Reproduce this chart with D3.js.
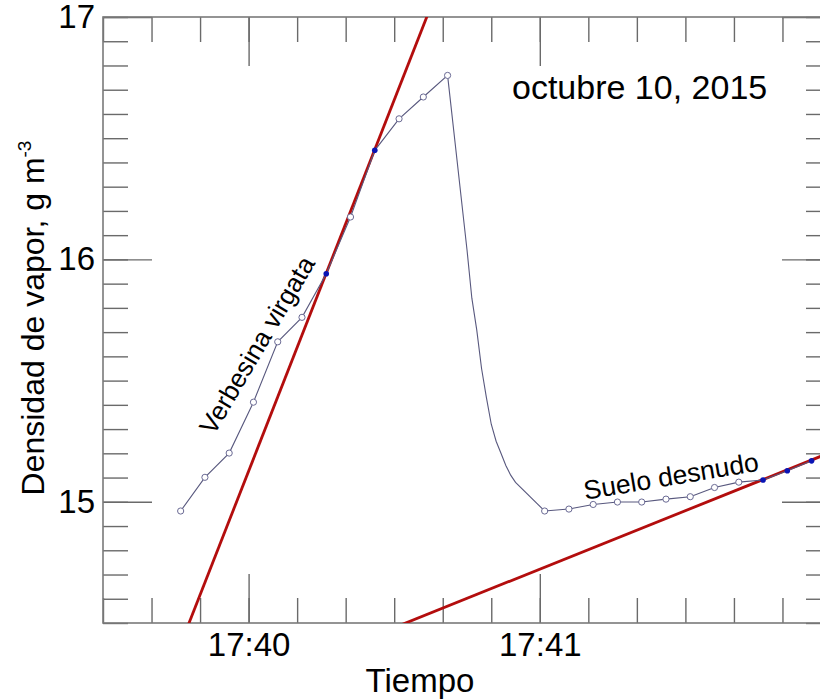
<!DOCTYPE html>
<html>
<head>
<meta charset="utf-8">
<script src="https://cdn.jsdelivr.net/npm/d3@7"></script>
<style>
  body { margin: 0; background: #fff; }
  svg { display: block; font-family: "Liberation Sans", Arial, sans-serif; }
</style>
</head>
<body>
<svg id="chart"></svg>
<script>
// readings every 5 s (markers), transition segment without markers
const verbesinaTimes = ["17:39:46", "17:39:51", "17:39:56", "17:40:01", "17:40:06", "17:40:11",
    "17:40:16", "17:40:21", "17:40:26", "17:40:31", "17:40:36", "17:40:41"];
const verbesinaValues = [14.962, 15.101, 15.201, 15.411, 15.660, 15.761,
    15.941, 16.175, 16.450, 16.580, 16.670, 16.759];

const transitionTimes = ["17:40:45", "17:40:46", "17:40:47", "17:40:48", "17:40:49", "17:40:50",
    "17:40:51", "17:40:52", "17:40:53", "17:40:54", "17:40:55"];
const transitionValues = [16.04, 15.84, 15.71, 15.55, 15.43, 15.32,
    15.25, 15.20, 15.15, 15.11, 15.08];

const sueloTimes = ["17:41:01", "17:41:06", "17:41:11", "17:41:16", "17:41:21", "17:41:26",
    "17:41:31", "17:41:36", "17:41:41", "17:41:46", "17:41:51", "17:41:56"];
const sueloValues = [14.962, 14.970, 14.989, 14.999, 14.999, 15.011,
    15.021, 15.059, 15.081, 15.090, 15.128, 15.169];

// points used for the fits (filled blue)
const verbesinaFitTimes = ["17:40:16", "17:40:26"];
const sueloFitTimes = ["17:41:46", "17:41:51", "17:41:56"];

// fitted lines: slope (g m-3 per s) through a reference point
const fitRefTimes = ["17:40:16", "17:41:46"];
const fitRefValues = [15.943, 15.092];
const fitSlopes = [0.05104, 0.00804];

const xDomain = ["17:39:30", "17:42:00"];
const yDomain = [14.5, 17];
const majorTimes = ["17:40:00", "17:41:00", "17:42:00"];
const labelTimes = ["17:40:00", "17:41:00"];
const majorValues = [15, 16, 17];

const parseTime = d3.timeParse("%H:%M:%S");

const width = 820, height = 700;
const margin = { top: 17, left: 103 };
const w = 728, h = 606;

const svg = d3.select("#chart")
    .attr("width", width)
    .attr("height", height);

const g = svg.append("g")
    .attr("transform", "translate(" + margin.left + "," + margin.top + ")");

const x = d3.scaleTime()
    .domain(xDomain.map(parseTime))
    .range([0, w]);
const y = d3.scaleLinear()
    .domain(yDomain)
    .range([h, 0]);

const axisColor = "#7a7a7a";

// minor ticks every 10 s / 0.1, major ticks with labels
const minorX = d3.timeSecond.every(10).range(x.domain()[0], d3.timeSecond.offset(x.domain()[1], 1));
const minorY = d3.range(yDomain[0], yDomain[1] + 0.001, 0.1);

function styleAxis(sel) {
    sel.select(".domain").remove();
    sel.selectAll(".tick line").attr("stroke", "#6a6a6a").attr("stroke-width", 1.4);
    sel.selectAll(".tick text").attr("fill", "#000").attr("font-size", 33)
        .attr("font-family", "'Liberation Sans', Arial, sans-serif");
}

// bottom
g.append("g").attr("transform", "translate(0," + h + ")")
    .call(d3.axisBottom(x).tickValues(minorX).tickSize(-25).tickFormat(""))
    .call(styleAxis);
g.append("g").attr("transform", "translate(0," + h + ")")
    .call(d3.axisBottom(x).tickValues(majorTimes.map(parseTime)).tickSize(-49).tickFormat(""))
    .call(styleAxis);
g.append("g").attr("transform", "translate(0," + h + ")")
    .call(d3.axisBottom(x).tickValues(labelTimes.map(parseTime)).tickSize(0).tickPadding(10)
        .tickFormat(d3.timeFormat("%H:%M")))
    .call(styleAxis);
// top
g.append("g")
    .call(d3.axisTop(x).tickValues(minorX).tickSize(-25).tickFormat(""))
    .call(styleAxis);
g.append("g")
    .call(d3.axisTop(x).tickValues(majorTimes.map(parseTime)).tickSize(-49).tickFormat(""))
    .call(styleAxis);
// left
g.append("g")
    .call(d3.axisLeft(y).tickValues(minorY).tickSize(-25).tickFormat(""))
    .call(styleAxis);
g.append("g")
    .call(d3.axisLeft(y).tickValues(majorValues).tickSize(-49).tickPadding(8).tickFormat(d3.format("d")))
    .call(styleAxis);
// right
g.append("g").attr("transform", "translate(" + w + ",0)")
    .call(d3.axisRight(y).tickValues(minorY).tickSize(-25).tickFormat(""))
    .call(styleAxis);
g.append("g").attr("transform", "translate(" + w + ",0)")
    .call(d3.axisRight(y).tickValues(majorValues).tickSize(-49).tickFormat(""))
    .call(styleAxis);

// frame
g.append("rect")
    .attr("width", w).attr("height", h)
    .attr("fill", "none")
    .attr("stroke", axisColor)
    .attr("stroke-width", 1.6);

g.append("clipPath").attr("id", "plotclip")
    .append("rect").attr("width", w).attr("height", h);

const plot = g.append("g").attr("clip-path", "url(#plotclip)");

// fit lines
const t0 = x.domain()[0], t1 = x.domain()[1];
for (let i = 0; i < fitSlopes.length; i++) {
    const ref = parseTime(fitRefTimes[i]);
    const ends = [t0, t1].map(function (t) {
        return { t: t, v: fitRefValues[i] + fitSlopes[i] * (t - ref) / 1000 };
    });
    plot.append("line")
        .attr("x1", x(ends[0].t)).attr("y1", y(ends[0].v))
        .attr("x2", x(ends[1].t)).attr("y2", y(ends[1].v))
        .attr("stroke", "#b30d0d")
        .attr("stroke-width", 2.8);
}

// measured series
const allTimes = verbesinaTimes.concat(transitionTimes, sueloTimes);
const allValues = verbesinaValues.concat(transitionValues, sueloValues);
const series = allTimes.map(function (t, i) { return { t: parseTime(t), v: allValues[i] }; });

plot.append("path")
    .datum(series)
    .attr("fill", "none")
    .attr("stroke", "#58587e")
    .attr("stroke-width", 1.1)
    .attr("d", d3.line().x(d => x(d.t)).y(d => y(d.v)));

const fitSet = new Set(verbesinaFitTimes.concat(sueloFitTimes));
const markers = verbesinaTimes.map((t, i) => ({ s: t, t: parseTime(t), v: verbesinaValues[i] }))
    .concat(sueloTimes.map((t, i) => ({ s: t, t: parseTime(t), v: sueloValues[i] })));

plot.selectAll(".open")
    .data(markers.filter(d => !fitSet.has(d.s)))
    .enter().append("circle")
    .attr("class", "open")
    .attr("cx", d => x(d.t)).attr("cy", d => y(d.v))
    .attr("r", 3.1)
    .attr("fill", "#fff")
    .attr("stroke", "#6a6a94")
    .attr("stroke-width", 1);

plot.selectAll(".fit")
    .data(markers.filter(d => fitSet.has(d.s)))
    .enter().append("circle")
    .attr("class", "fit")
    .attr("cx", d => x(d.t)).attr("cy", d => y(d.v))
    .attr("r", 2.8)
    .attr("fill", "#0a14b4");

// annotations
g.append("text")
    .attr("x", 409).attr("y", 82)
    .attr("font-size", 34)
    .text("octubre 10, 2015");

g.append("text")
    .attr("transform", "translate(" + 154 + "," + 328 + ") rotate(-59.5)")
    .attr("text-anchor", "middle")
    .attr("dy", "0.35em")
    .attr("font-size", 26)
    .text("Verbesina virgata");

g.append("text")
    .attr("transform", "translate(" + 568 + "," + 459 + ") rotate(-9.5)")
    .attr("text-anchor", "middle")
    .attr("dy", "0.35em")
    .attr("font-size", 26.5)
    .text("Suelo desnudo");

// axis titles
svg.append("text")
    .attr("x", 420).attr("y", 692)
    .attr("text-anchor", "middle")
    .attr("font-size", 33)
    .text("Tiempo");

const ylab = svg.append("text")
    .attr("transform", "translate(44,318) rotate(-90)")
    .attr("text-anchor", "middle")
    .attr("font-size", 32);
ylab.append("tspan").text("Densidad de vapor, g m");
ylab.append("tspan").attr("dy", -13).attr("font-size", 19).text("-3");
</script>
</body>
</html>
